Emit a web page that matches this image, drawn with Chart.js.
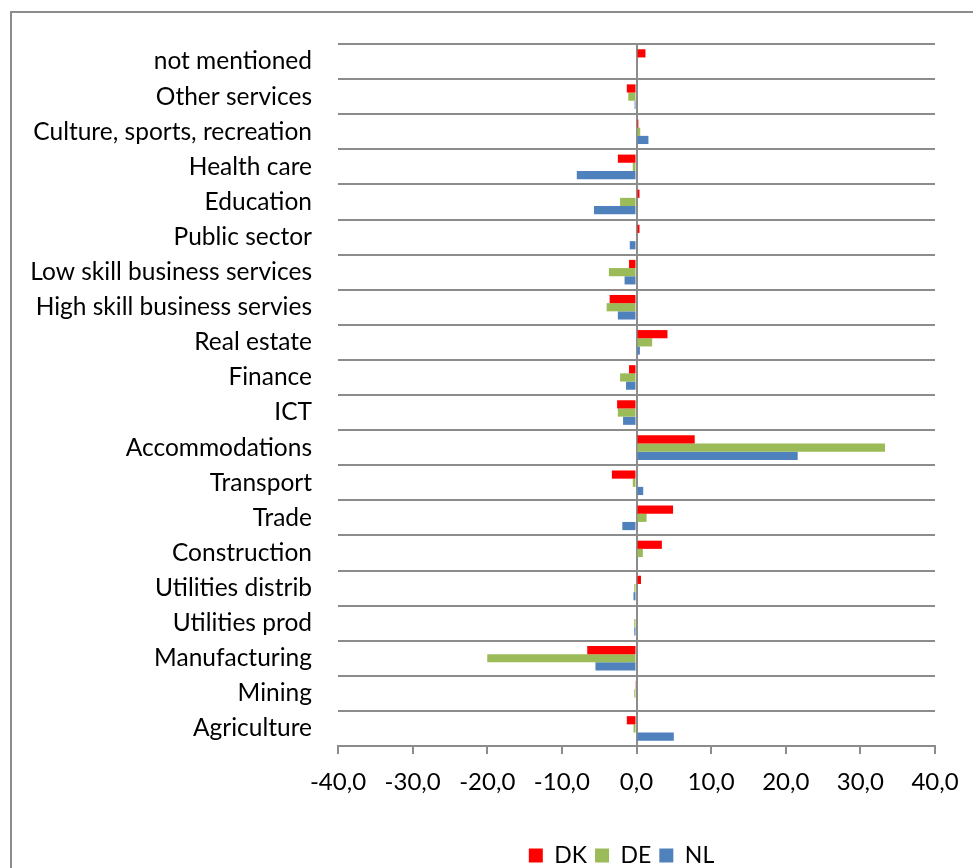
<!DOCTYPE html>
<html>
<head>
<meta charset="utf-8">
<script src="https://cdn.jsdelivr.net/npm/chart.js@4/dist/chart.umd.min.js"></script>
<style>
  html, body { margin: 0; padding: 0; background: #fff; overflow: hidden; }
  #wrap { position: relative; width: 973px; height: 868px; overflow: hidden; }
  #frame { position: absolute; left: 10px; top: 11px; width: 1000px; height: 900px;
           border-left: 2px solid #8c8c8c; border-top: 2px solid #8c8c8c; }
  canvas { position: absolute; left: 0; top: 0; }
</style>
</head>
<body>
<div id="wrap">
  <div id="frame"></div>
  <canvas id="c" width="973" height="877" style="width:973px;height:877px"></canvas>
</div>
<script>
const categories = [
  "not mentioned", "Other services", "Culture, sports, recreation", "Health care",
  "Education", "Public sector", "Low skill business services", "High skill business servies",
  "Real estate", "Finance", "ICT", "Accommodations", "Transport", "Trade",
  "Construction", "Utilities distrib", "Utilities prod", "Manufacturing", "Mining", "Agriculture"
];
const dkValues = [1.2, -1.3, 0.25, -2.5, 0.4, 0.4, -1.0, -3.6, 4.15, -1.0, -2.6, 7.8, -3.3, 4.9, 3.4, 0.6, 0.0, -6.6, -0.1, -1.3];
const deValues = [0.0, -1.1, 0.5, -0.5, -2.2, 0.0, -3.7, -4.0, 2.1, -2.2, -2.5, 33.3, -0.5, 1.35, 0.85, -0.3, -0.3, -20.0, -0.3, -0.4];
const nlValues = [0.0, -0.25, 1.6, -8.0, -5.7, -0.9, -1.6, -2.5, 0.45, -1.4, -1.8, 21.6, 0.9, -1.9, 0.1, -0.4, -0.3, -5.5, 0.0, 5.0];
const seriesNames = ["DK", "DE", "NL"];
const xTicks = [-40, -30, -20, -10, 0, 10, 20, 30, 40];

const FONT = "Lato";
const GRID = "#8c8c8c";

const legendShift = {
  id: "legendShift",
  afterLayout(chart) {
    const lg = chart.legend;
    if (lg) { lg.left -= 15; lg.right -= 15; }
  }
};

new Chart(document.getElementById("c"), {
  type: "bar",
  data: {
    labels: categories,
    datasets: [
      { label: seriesNames[0], data: dkValues, backgroundColor: "#ff0000" },
      { label: seriesNames[1], data: deValues, backgroundColor: "#9bbb59" },
      { label: seriesNames[2], data: nlValues, backgroundColor: "#4f81bd" }
    ]
  },
  plugins: [legendShift],
  options: {
    indexAxis: "y",
    responsive: false,
    animation: false,
    devicePixelRatio: 1,
    datasets: { bar: { categoryPercentage: 0.7, barPercentage: 1.0, borderWidth: 0 } },
    layout: { padding: { left: 0, right: 38, top: 44, bottom: 0 } },
    scales: {
      x: {
        min: -40, max: 40,
        z: 1,
        afterBuildTicks: (s) => { s.ticks = xTicks.map(v => ({ value: v })); },
        afterFit: (s) => { s.height = 90; },
        grid: {
          color: (ctx) => (ctx.tick && ctx.tick.value === 0) ? GRID : "rgba(0,0,0,0)",
          lineWidth: 2,
          tickColor: GRID,
          tickLength: 8,
          drawTicks: true
        },
        border: { display: true, color: GRID, width: 2 },
        ticks: {
          color: "#000",
          font: { family: FONT, size: 24 },
          padding: 14,
          maxRotation: 0,
          callback: (v) => Number(v).toFixed(1).replace(".", ",")
        }
      },
      y: {
        afterFit: (s) => { s.width = 338; },
        grid: { offset: true, color: GRID, lineWidth: 2, drawTicks: false },
        border: { display: false },
        ticks: { color: "#000", font: { family: FONT, size: 24.5 }, padding: 26, autoSkip: false }
      }
    },
    plugins: {
      legend: {
        position: "bottom",
        fullSize: false,
        labels: { font: { family: FONT, size: 23 }, color: "#000", boxWidth: 14, boxHeight: 14, padding: 8 }
      },
      tooltip: { enabled: false }
    }
  }
});
</script>
</body>
</html>
